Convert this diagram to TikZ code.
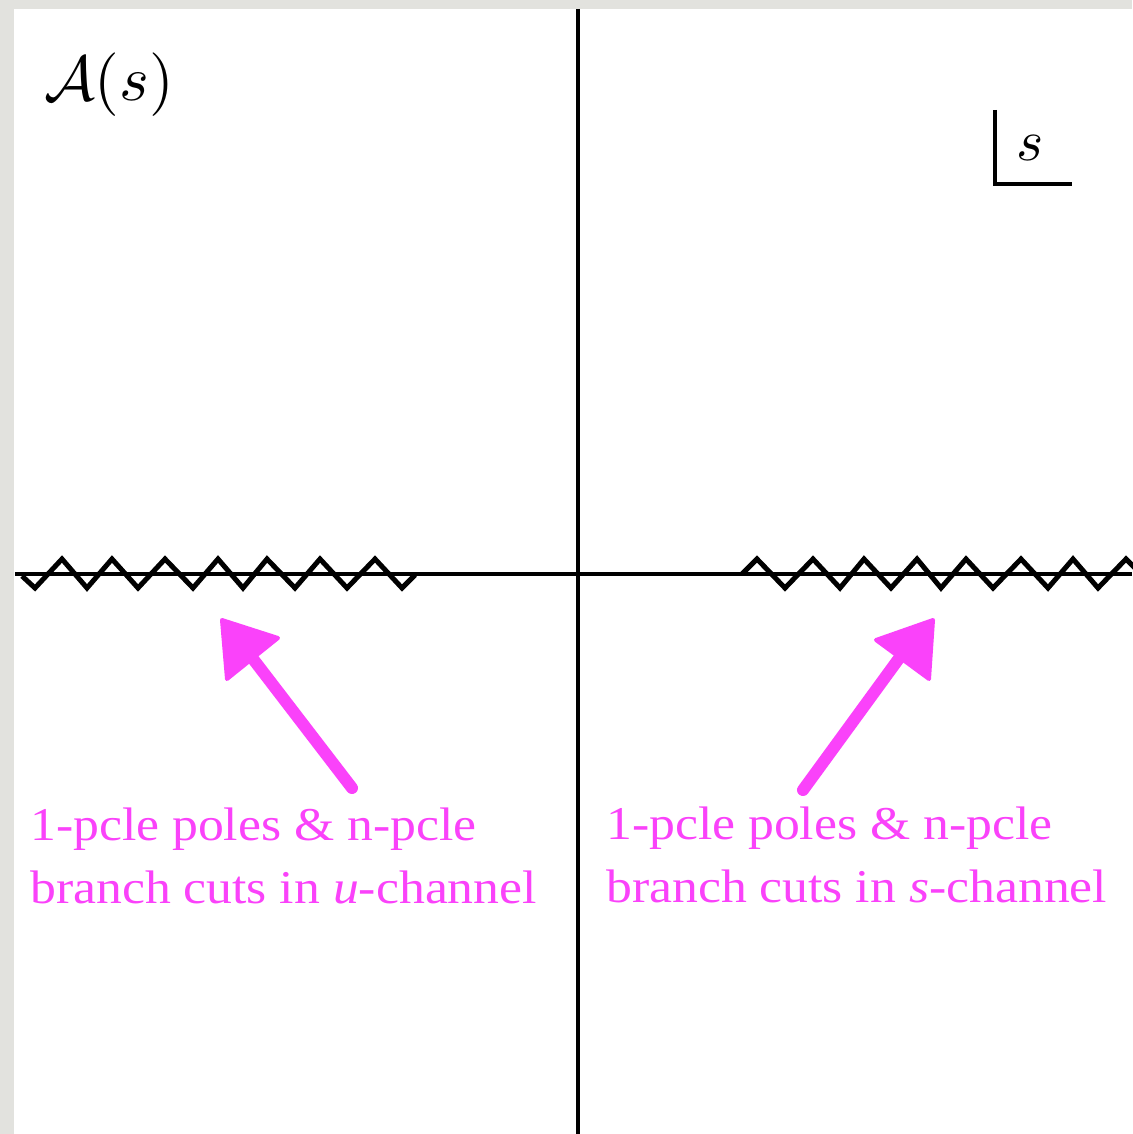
\documentclass[tikz,border=0pt]{standalone}
\usepackage{fontspec}
\newfontfamily\pinkfont[FakeStretch=1.1]{Liberation Serif}
\definecolor{chalk}{RGB}{250,66,250}
\definecolor{bggray}{RGB}{226,226,222}
\begin{document}
\begin{tikzpicture}[x=1pt,y=-1pt,
  axis/.style={line width=4.5pt,black},
  cut/.style={line width=5pt,black,line join=miter},
  lbl/.style={text=chalk,font=\pinkfont\fontsize{47}{63}\selectfont,anchor=base west,inner sep=0pt},
  shaft/.style={line width=12pt,chalk,line cap=round},
  head/.style={fill=chalk,draw=chalk,line width=4pt,line join=round}]
\fill[bggray] (0,0) rectangle (1132,1134);
\fill[white] (14,9) rectangle (1132,1134);
\useasboundingbox (0,0) rectangle (1132,1134);
% axes
\coordinate (vtop) at (578,9);
\coordinate (vbot) at (578,1134);
\coordinate (hl) at (15,574);
\coordinate (hr) at (1132,574);
\draw[axis] (vtop) -- (vbot);
\draw[axis] (hl) -- (hr);
% branch cuts
\draw[cut] (22,576) -- (35,588) -- (62,559) -- (87,588) -- (112,559) -- (138,588) -- (165,559) -- (193,588) -- (218,559) -- (243,588) -- (267,559) -- (295,588) -- (320,559) -- (347,588) -- (375,559) -- (402,588) -- (415,575);
\draw[cut] (742,574) -- (757,559) -- (785,588) -- (813,559) -- (840,588) -- (864,559) -- (891,588) -- (917,559) -- (941,588) -- (966,559) -- (993,588) -- (1021,559) -- (1048,588) -- (1073,559) -- (1098,588) -- (1126,559) -- (1141,574);
% title
\node[scale=6.35,anchor=base west,inner sep=0pt] (amp) at (43,101) {$\mathcal{A}(s)$};
% s-plane label
\coordinate (stop) at (995,110);
\coordinate (scorner) at (995,184);
\coordinate (sright) at (1072,184);
\draw[line width=4pt] (stop) -- (scorner) -- (sright);
\node[scale=5.8,anchor=base west,inner sep=0pt] (slbl) at (1015,161) {$s$};
% arrows
\coordinate (ltail) at (352,788);
\coordinate (lneck) at (250,655);
\coordinate (lt1) at (222,620);
\coordinate (lt2) at (278,638);
\coordinate (lt3) at (227,679);
\draw[shaft] (ltail) -- (lneck);
\filldraw[head] (lt1) -- (lt2) -- (lt3) -- cycle;
\coordinate (rtail) at (803,790);
\coordinate (rneck) at (900,657);
\coordinate (rt1) at (933,620);
\coordinate (rt2) at (876,640);
\coordinate (rt3) at (929,679);
\draw[shaft] (rtail) -- (rneck);
\filldraw[head] (rt1) -- (rt2) -- (rt3) -- cycle;
% labels
\node[lbl] (tl1) at (30,840) {1-pcle poles \& n-pcle};
\node[lbl] (tl2) at (30,903) {branch cuts in \textit{u}-channel};
\node[lbl] (tr1) at (606,839) {1-pcle poles \& n-pcle};
\node[lbl] (tr2) at (606,902) {branch cuts in \textit{s}-channel};
\end{tikzpicture}
\end{document}
